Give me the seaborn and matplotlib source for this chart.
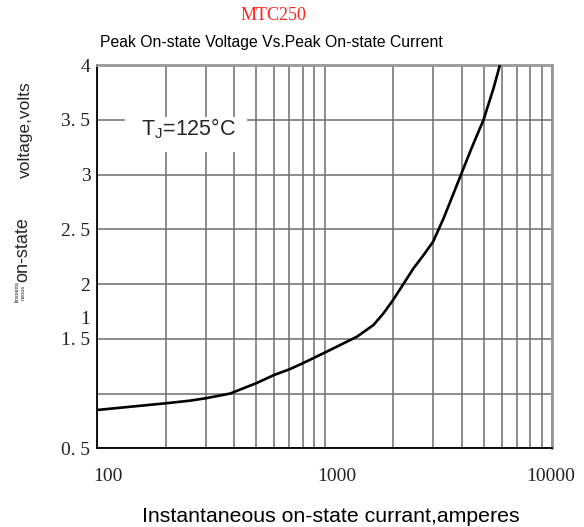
import matplotlib
matplotlib.use("Agg")
import matplotlib.pyplot as plt
import matplotlib.patches as patches
import matplotlib.transforms as mtransforms
import numpy as np
import pandas as pd
import seaborn as sns

# ---- data ----
current = [100, 200, 256, 300, 384, 439, 500, 600, 700, 800, 1000, 1170, 1387,
           1640, 1815, 2000, 2460, 2724, 3000, 3335, 3568, 4000, 4366, 4519,
           5000, 5530, 5900]
voltage = [0.85, 0.911, 0.935, 0.957, 1.0, 1.048, 1.094, 1.17, 1.221, 1.276,
           1.373, 1.443, 1.519, 1.626, 1.733, 1.854, 2.144, 2.265, 2.387, 2.6,
           2.752, 3.011, 3.209, 3.285, 3.5, 3.787, 4.0]

xtick_values = [100, 1000, 10000]
xtick_labels = ["100", "1000", "10000"]
ytick_values = [0.5, 1.0, 1.5, 2.0, 2.5, 3.0, 3.5, 4.0]
ytick_labels = ["0. 5", "", "1. 5", "2", "2. 5", "3", "3. 5", "4"]
extra_ytick_value = [1.69]
extra_ytick_label = ["1"]

title_top = "MTC250"
title = "Peak On-state Voltage Vs.Peak On-state Current"
xlabel = "Instantaneous on-state currant,amperes"
annotation = r"T$_\mathregular{J}$=125°C"

sns.set_theme(style="white")
plt.rcParams["font.family"] = ["Liberation Sans", "DejaVu Sans"]
plt.rcParams["mathtext.fontset"] = "custom"
plt.rcParams["mathtext.rm"] = "Liberation Sans"

W, H = 584, 527
fig = plt.figure(figsize=(W / 100, H / 100), dpi=100)
ax = fig.add_axes([97.3 / W, 1 - 448.3 / H, (552 - 97.3) / W, (448.3 - 65) / H])

df = pd.DataFrame({"current": current, "voltage": voltage})
sns.lineplot(data=df, x="current", y="voltage", ax=ax, color="black",
             linewidth=1.9, estimator=None, sort=True, zorder=4)
for ln in ax.get_lines():
    ln.set_solid_joinstyle("round")
    ln.set_solid_capstyle("round")

ax.set_xscale("log")
ax.set_xlim(100, 10000)
ax.set_ylim(0.5, 4.0)
ax.set_xlabel("")
ax.set_ylabel("")

# grid
ax.set_axisbelow(True)
ax.xaxis.set_minor_locator(matplotlib.ticker.LogLocator(base=10, subs=np.arange(2, 10)))
ax.xaxis.set_minor_formatter(matplotlib.ticker.NullFormatter())
ax.grid(True, which="major", axis="both", color="#6e6e6e", linewidth=1.1)
ax.grid(True, which="minor", axis="x", color="#6e6e6e", linewidth=1.1)

# ticks
ax.set_xticks(xtick_values)
ax.set_xticklabels(xtick_labels)
ax.set_yticks(ytick_values)
ax.set_yticklabels(ytick_labels)
ax.set_yticks(extra_ytick_value, minor=True)
ax.set_yticklabels(extra_ytick_label, minor=True)
ax.tick_params(axis="both", which="both", length=0)
ax.tick_params(axis="x", which="major", pad=14)
ax.tick_params(axis="y", which="both", pad=5)
for lab in ax.get_xticklabels() + ax.get_yticklabels() + ax.get_yticklabels(minor=True):
    lab.set_fontfamily("Liberation Serif")
    lab.set_fontsize(14)
    lab.set_color("#222222")
# shift x tick labels like the reference
offsets = [11, 12, -1]
for lab, dx in zip(ax.get_xticklabels(), offsets):
    lab.set_transform(lab.get_transform() + mtransforms.ScaledTranslation(dx / 100, 0, fig.dpi_scale_trans))

# spines
for s in ["left", "bottom"]:
    ax.spines[s].set_color("black")
    ax.spines[s].set_linewidth(1.3)
for s in ["top", "right"]:
    ax.spines[s].set_color("#999999")
    ax.spines[s].set_linewidth(2.0)

# annotation with white backing
x0 = (125 - 97.3) / (552 - 97.3)
x1 = (247 - 97.3) / (552 - 97.3)
y0 = (448.3 - 152) / (448.3 - 65)
y1 = (448.3 - 117) / (448.3 - 65)
ax.add_patch(patches.Rectangle((x0, y0), x1 - x0, y1 - y0, transform=ax.transAxes,
                               facecolor="white", edgecolor="none", zorder=2))
ax.text(((189 - 97.3) / (552 - 97.3)), (448.3 - 129) / (448.3 - 65), annotation,
        transform=ax.transAxes, ha="center", va="center", fontsize=15.5, zorder=5)

# titles and labels
fig.text(273 / W, 1 - 15 / H, title_top, color="#ff2020", fontsize=13,
         family="Liberation Serif", ha="center", va="center")
fig.text(271 / W, 1 - 42 / H, title, color="black", fontsize=11.3,
         ha="center", va="center")
fig.text(331 / W, 1 - 517 / H, xlabel, color="black", fontsize=15.3,
         ha="center", va="center")
fig.text(25 / W, 1 - 130 / H, "voltage,volts", rotation=90, fontsize=12.5,
         ha="center", va="center")
fig.text(23 / W, 1 - 250 / H, "on-state", rotation=90, fontsize=13,
         ha="center", va="center")
fig.text(20 / W, 1 - 292 / H, "Iinstanta\nneous", rotation=90, fontsize=4,
         ha="center", va="center", linespacing=1.2)

fig.savefig("out.png", dpi=100, facecolor="white")
